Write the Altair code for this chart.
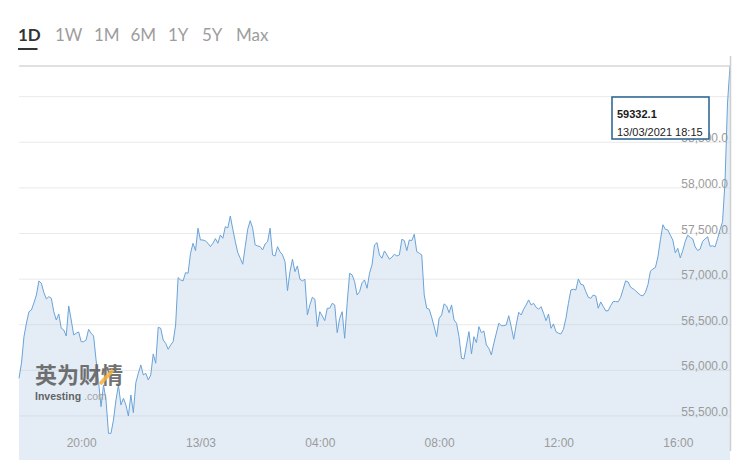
import altair as alt
import pandas as pd

# ---- data (5-minute closes, 12/03 17:55 -> 13/03 17:45) ----
prices = [
    55913, 56081, 56369, 56519, 56643, 56662, 56739, 56826, 56980, 56955,
    56852, 56783, 56808, 56790, 56643, 56552, 56618, 56461, 56443, 56377,
    56706, 56552, 56388, 56407, 56421, 56314, 56314, 56333, 56450, 56407,
    56377, 56114, 55876, 55602, 55840, 55675, 55310, 55310, 55456, 55675,
    55840, 55621, 55694, 55621, 55500, 55730, 55536, 55865, 55968, 56059,
    55949, 55968, 55895, 55949, 56180, 56078, 56472, 56461, 56333, 56297,
    56231, 56278, 56314, 56498, 57016, 56991, 56980, 57071, 57064, 57284,
    57393, 57312, 57558, 57429, 57429, 57418, 57393, 57356, 57393, 57444,
    57393, 57484, 57448, 57575, 57561, 57692, 57547, 57411, 57290, 57229,
    57163, 57356, 57547, 57641, 57558, 57375, 57364, 57356, 57320, 57385,
    57411, 57558, 57265, 57254, 57356, 57301, 57265, 57191, 56874, 57082,
    57218, 57082, 57144, 56999, 56980, 56999, 56607, 56717, 56801, 56779,
    56479, 56643, 56596, 56545, 56681, 56681, 56735, 56717, 56413, 56571,
    56643, 56352, 56735, 57064, 57046, 56972, 56826, 56863, 56961, 56991,
    56900, 57064, 57155, 57375, 57400, 57265, 57229, 57309, 57265, 57218,
    57240, 57273, 57254, 57265, 57437, 57422, 57312, 57429, 57422, 57492,
    57301, 57284, 57265, 56826, 56681, 56670, 56582, 56479, 56369, 56571,
    56607, 56728, 56706, 56632, 56717, 56552, 56516, 56369, 56133, 56125,
    56278, 56424, 56180, 56369, 56304, 56479, 56413, 56432, 56278, 56242,
    56169, 56297, 56407, 56516, 56490, 56490, 56498, 56599, 56479, 56341,
    56498, 56637, 56607, 56670, 56717, 56772, 56717, 56735, 56692, 56670,
    56698, 56626, 56545, 56618, 56461, 56509, 56424, 56407, 56399, 56450,
    56571, 56735, 56881, 56889, 56881, 57002, 56944, 56936, 56863, 56801,
    56790, 56826, 56815, 56681, 56750, 56701, 56652, 56653, 56709, 56754,
    56755, 56751, 56800, 56888, 56981, 56969, 56913, 56894, 56874, 56847,
    56824, 56817, 56856, 56940, 57088, 57111, 57127, 57243, 57430, 57596,
    57546, 57539, 57482, 57429, 57288, 57338, 57232, 57314, 57414, 57482,
    57458, 57440, 57353, 57314, 57330, 57414, 57442, 57464, 57360, 57365,
    57354, 57444, 57543, 57628, 58067, 58931, 59332.1,
]
start_time = "2021-03-12 17:55"
step = "5min"

grid_values = [55500, 56000, 56500, 57000, 57500, 58000, 58500, 59000]
y_label_values = [55500, 56000, 56500, 57000, 57500, 58000, 58500]
y_domain = [55116, 59336]
x_tick_times = [(2021, 3, 12, 20), (2021, 3, 13, 0), (2021, 3, 13, 4),
                (2021, 3, 13, 8), (2021, 3, 13, 12), (2021, 3, 13, 16)]
range_buttons = ["1D", "1W", "1M", "6M", "1Y", "5Y", "Max"]
tooltip_value = "59332.1"
tooltip_date = "13/03/2021 18:15"
wm_cn = "英为财情"
wm_en = "Investing"
wm_com = ".com"

times = pd.date_range(start=start_time, periods=len(prices), freq=step)
df = pd.DataFrame({"t": times.strftime("%Y-%m-%dT%H:%M:%S"), "price": prices})
grid_df = pd.DataFrame({"price": grid_values})
ylab_df = pd.DataFrame({"price": y_label_values})
one = alt.Data(values=[{}])

W, H = 711, 385
LABEL_FONT = "Liberation Sans"
LABEL_COLOR = "#9b9b9b"

yscale = alt.Scale(domain=y_domain, nice=False, zero=False)
xscale = alt.Scale(nice=False)

x_axis = alt.Axis(
    values=[alt.DateTime(year=a, month=b, date=c, hours=d) for a, b, c, d in x_tick_times],
    labelExpr="hours(datum.value) == 0 ? timeFormat(datum.value, '%d/%m') : timeFormat(datum.value, '%H:%M')",
    grid=False, domain=False, ticks=False, tickSize=0,
    labelPadding=-5, labelBaseline="alphabetic", labelAlign="center",
    labelFont=LABEL_FONT, labelFontSize=12, labelColor=LABEL_COLOR,
    labelFlush=False, labelOverlap=False, title=None, zindex=1,
)

grid = alt.Chart(grid_df).mark_rule(color="#e9e9e9", strokeWidth=1).encode(
    y=alt.Y("price:Q", scale=yscale, axis=None)
)

area = alt.Chart(df).mark_area(color="#b3cde6", opacity=0.36).encode(
    x=alt.X("t:T", scale=xscale, axis=x_axis),
    y=alt.Y("price:Q", scale=yscale, axis=None),
)

line = alt.Chart(df).mark_line(color="#6aa3d8", strokeWidth=1).encode(
    x=alt.X("t:T", scale=xscale, axis=x_axis),
    y=alt.Y("price:Q", scale=yscale, axis=None),
)

# y labels (right side, inside the plot, sitting on their gridlines)
ylabels = alt.Chart(ylab_df).mark_text(
    font=LABEL_FONT, fontSize=12, color=LABEL_COLOR, align="right", baseline="alphabetic",
).encode(
    x=alt.value(W - 2),
    y=alt.Y("price:Q", scale=yscale, axis=None),
    text=alt.Text("price:Q", format=",.1f"),
)

top_border = alt.Chart(one).mark_rule(color="#c2c2c2", strokeWidth=1).encode(
    x=alt.value(0), x2=alt.value(W + 1), y=alt.value(0)
)
right_border = alt.Chart(one).mark_rule(color="#cfcfcf", strokeWidth=1.5).encode(
    x=alt.value(W + 0.5), y=alt.value(-10), y2=alt.value(H)
)

# watermark
wm1 = alt.Chart(one).mark_text(
    font="Noto Sans CJK SC", fontWeight="bold", fontSize=22, align="left",
    baseline="alphabetic", color="#5a5a5a", opacity=0.85,
).encode(x=alt.value(16), y=alt.value(317), text=alt.value(wm_cn))
wm_slash = alt.Chart(one).mark_rule(color="#f3b13a", strokeWidth=4, opacity=0.85).encode(
    x=alt.value(81), y=alt.value(318), x2=alt.value(94), y2=alt.value(304)
)
wm2 = alt.Chart(one).mark_text(
    font=LABEL_FONT, fontWeight="bold", fontSize=10.5, align="left",
    baseline="alphabetic", color="#555555", opacity=0.9,
).encode(x=alt.value(16), y=alt.value(334), text=alt.value(wm_en))
wm3 = alt.Chart(one).mark_text(
    font=LABEL_FONT, fontSize=10.5, align="left",
    baseline="alphabetic", color="#9a9a9a", opacity=0.9,
).encode(x=alt.value(65), y=alt.value(334), text=alt.value(wm_com))

# tooltip box (drawn over the y labels, as in the reference)
tip_box = alt.Chart(one).mark_rect(fill="#ffffff", stroke="#24608e", strokeWidth=1.5).encode(
    x=alt.value(593), x2=alt.value(690), y=alt.value(31), y2=alt.value(73)
)
tip_val = alt.Chart(one).mark_text(
    font=LABEL_FONT, fontSize=11, fontWeight="bold", align="left",
    baseline="alphabetic", color="#1a1a1a",
).encode(x=alt.value(598), y=alt.value(51.5), text=alt.value(tooltip_value))
tip_date = alt.Chart(one).mark_text(
    font=LABEL_FONT, fontSize=11, align="left", baseline="alphabetic", color="#222222",
).encode(x=alt.value(598), y=alt.value(69.5), text=alt.value(tooltip_date))

# range buttons above the chart
button_x = [-1, 36, 75, 111.5, 149, 183, 217]
buttons = []
for i, (lab, bx) in enumerate(zip(range_buttons, button_x)):
    buttons.append(
        alt.Chart(one).mark_text(
            font="Lato, Liberation Sans", fontSize=17,
            fontWeight="bold" if i == 0 else "normal", align="left", baseline="alphabetic",
            color="#333333" if i == 0 else "#9d9d9d",
        ).encode(x=alt.value(bx), y=alt.value(-25.5), text=alt.value(lab))
    )
underline = alt.Chart(one).mark_rule(color="#333333", strokeWidth=2).encode(
    x=alt.value(-1), x2=alt.value(18.5), y=alt.value(-17)
)

chart = alt.layer(
    grid, area, line, ylabels, top_border, right_border, wm1, wm_slash, wm2, wm3,
    tip_box, tip_val, tip_date, underline, *buttons
).properties(
    width=W, height=H,
    autosize=alt.AutoSizeParams(type="none"),
    padding={"left": 11, "top": 58, "right": 11, "bottom": 9},
    background="#ffffff",
).configure_view(strokeWidth=0)

chart.save("out.html", embed_options={"renderer": "svg", "actions": False})
